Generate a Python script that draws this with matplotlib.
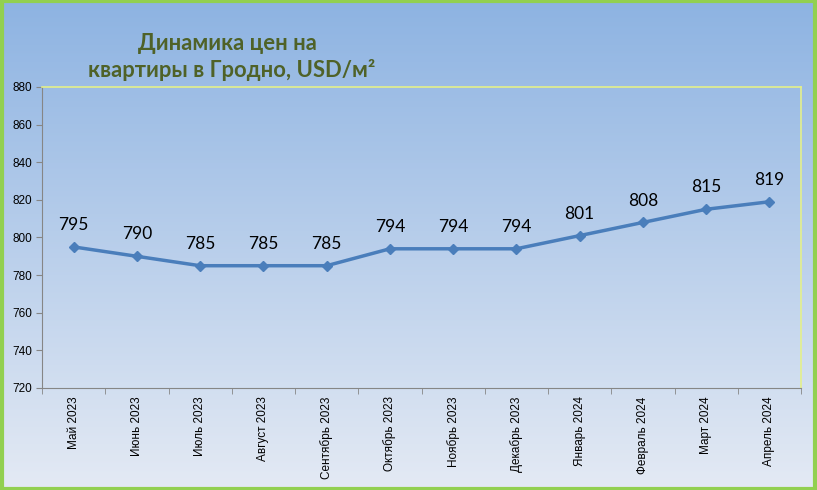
import matplotlib.pyplot as plt
import numpy as np
from matplotlib.patches import Rectangle

months = ['Май 2023', 'Июнь 2023', 'Июль 2023', 'Август 2023', 'Сентябрь 2023',
          'Октябрь 2023', 'Ноябрь 2023', 'Декабрь 2023', 'Январь 2024',
          'Февраль 2024', 'Март 2024', 'Апрель 2024']
prices = [795, 790, 785, 785, 785, 794, 794, 794, 801, 808, 815, 819]
yticks = [720, 740, 760, 780, 800, 820, 840, 860, 880]

fig = plt.figure(figsize=(8.17, 4.90), dpi=100)

# gradient background
bg = fig.add_axes([0, 0, 1, 1], zorder=0)
grad = np.linspace(0, 1, 256).reshape(-1, 1)
top = np.array([0x8D, 0xB3, 0xE2]) / 255
bot = np.array([0xE4, 0xEA, 0xF4]) / 255
img = top + (bot - top) * grad[..., None]
bg.imshow(img, aspect='auto', extent=[0, 1, 0, 1])
bg.axis('off')
fig.patches.append(Rectangle((0.002, 0.003), 0.996, 0.994, transform=fig.transFigure,
                             fill=False, ec='#92D050', lw=3, zorder=10))

ax = fig.add_axes([42/817, 1 - 388/490, 759/817, 301/490], zorder=1)
ax.patch.set_alpha(0)
x = np.arange(len(months))
ax.plot(x, prices, color='#4A7EBB', lw=2.5, marker='D', ms=5, mfc='#4A7EBB', mec='#4A7EBB')
for xi, v in zip(x, prices):
    ax.annotate(str(v), (xi, v), xytext=(0, 10), textcoords='offset points',
                ha='center', va='bottom', fontsize=12.5, family='Lato', color='black')

ax.set_xlim(-0.5, len(months) - 0.5)
ax.set_ylim(720, 880)
ax.set_yticks(yticks)
ax.set_yticklabels([str(t) for t in yticks], fontsize=8.5, family='Liberation Sans')
ax.set_xticks(x)
ax.set_xticklabels(months, rotation=90, fontsize=8.5, family='Liberation Sans')
ax.set_xticks(np.arange(-0.5, len(months)), minor=True)
ax.tick_params(axis='x', which='major', length=0, pad=6)
ax.tick_params(axis='x', which='minor', length=4, color='#868686', direction='out')
ax.tick_params(axis='y', length=4, color='#868686', direction='out', pad=3)
for s in ['left', 'bottom']:
    ax.spines[s].set_color('#868686')
for s in ['top', 'right']:
    ax.spines[s].set_color('#E4F08A')
    ax.spines[s].set_linewidth(1.2)

fig.text(227/817, 1 - 44/490, 'Динамика цен на', ha='center', va='center',
         fontsize=15.8, fontweight='bold', family='Lato', color='#4F6228')
fig.text(232/817, 1 - 70/490, 'квартиры в Гродно, USD/м²', ha='center', va='center',
         fontsize=15.8, fontweight='bold', family='Lato', color='#4F6228')

fig.savefig('out.png', dpi=100)
